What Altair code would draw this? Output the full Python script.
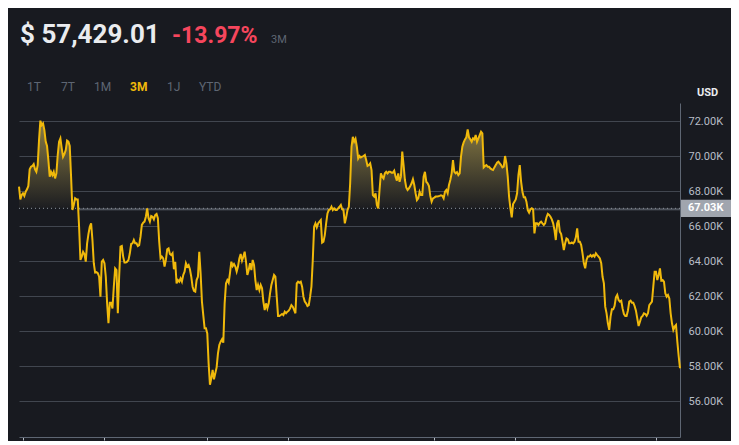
import altair as alt
import pandas as pd

# ---- price series (thousand USD), in time order ----
seg_1 = [68.27, 67.54, 67.79, 67.89, 67.74, 67.98, 68.12, 68.31, 69.26, 69.41,
         69.45, 69.56, 69.26, 69.12, 69.50, 70.93, 72.04, 71.79, 71.89, 71.50,
         70.84, 70.59, 69.79, 68.84, 69.12, 68.93, 69.12, 68.74, 69.03, 70.08,
         70.84, 71.03, 70.46, 69.98, 70.13, 70.36, 70.90, 70.84, 70.59, 68.84,
         66.93, 67.22, 67.60, 67.54, 67.54, 65.98, 64.08, 64.27, 64.55, 64.42,
         63.98, 65.03, 65.56, 65.98, 66.17, 65.22, 63.89, 63.36, 63.38, 63.32,
         63.12, 61.98, 63.98, 64.08, 63.89, 63.12, 61.60, 60.46, 61.64, 61.64,
         61.31, 62.55, 63.60, 63.50, 61.03, 63.12, 64.84, 64.88, 64.27, 63.93]
seg_2 = [63.93, 63.98, 64.08, 64.46, 64.99, 65.03, 65.22, 65.03, 65.03, 64.88,
         64.93, 65.41, 66.08, 66.21, 66.27, 66.55, 67.03, 66.46, 66.27, 66.59,
         66.55, 66.40, 66.65, 66.71, 66.46, 65.12, 64.17, 64.27, 64.17, 63.70,
         64.08, 64.69, 64.74, 64.42, 64.36, 64.46, 63.55, 63.98, 62.74, 62.93,
         62.84, 63.03, 62.84, 63.22, 63.41, 63.89, 63.70, 63.79, 63.55, 63.12,
         62.55, 62.32, 62.27, 62.93, 63.12, 64.55, 63.32, 61.70, 60.93, 60.17,
         60.17, 59.88, 58.17, 56.95, 57.31, 57.79, 57.26, 57.60, 57.94, 58.74,
         59.22, 59.41, 59.54, 59.35, 61.60, 62.74, 62.93, 62.78, 63.32, 63.98,
         63.73, 63.85]
seg_3 = [63.70, 63.41, 63.70, 64.17, 64.42, 64.04, 64.27, 64.55, 63.98, 63.22,
         63.50, 63.89, 63.50, 64.08, 63.79, 62.93, 62.36, 62.65, 62.36, 62.65,
         62.46, 61.70, 61.22, 61.60, 61.31, 61.60, 62.17, 62.65, 62.93, 63.22,
         63.12, 61.98, 60.88, 60.88, 60.93, 60.99, 60.93, 61.12, 61.03, 61.12,
         61.18, 61.31, 61.50, 61.41, 61.22, 61.03, 62.74, 62.84, 62.78, 62.84,
         62.55, 61.98, 61.70, 61.60, 61.45, 61.50, 61.98, 62.55, 64.08, 65.98,
         66.17, 65.94, 66.17, 66.27, 66.36, 65.07, 65.12, 65.50, 66.17, 66.74,
         66.93, 66.97, 67.12, 66.93, 67.03, 66.93, 66.93, 67.03, 67.12, 67.22,
         66.97, 66.93, 66.17]
seg_4 = [66.51, 66.93, 67.12, 68.46, 70.55, 71.12, 70.84, 71.00, 70.55, 69.88,
         70.02, 69.94, 69.98, 70.02, 70.08, 69.79, 69.45, 69.50, 69.60, 69.22,
         67.79, 67.70, 67.89, 67.22, 67.03, 68.08, 69.03, 68.84, 68.74, 69.03,
         69.12, 69.03, 69.12, 69.12, 69.07, 69.07, 69.18, 68.84, 68.61, 69.03,
         68.55, 68.84, 70.27, 69.50, 68.65, 68.23, 68.08, 68.17, 68.31, 68.46,
         68.69, 68.36, 67.89, 67.50, 67.60, 67.98, 67.79, 67.79, 68.84, 69.12,
         68.55, 68.46, 68.31, 67.74, 67.41, 67.60, 67.64, 67.70, 67.70, 67.72,
         67.74, 67.77, 67.75, 67.60, 67.98, 68.08, 67.89, 68.36, 68.65, 69.03,
         69.79, 69.12]
seg_5 = [69.03, 69.10, 68.93, 69.03, 69.98, 70.55, 70.80, 70.97, 71.09, 71.54,
         71.09, 70.97, 70.84, 71.03, 70.97, 71.22, 70.84, 71.03, 71.22, 71.41,
         71.31, 69.37, 69.45, 69.50, 69.41, 69.41, 69.31, 69.26, 69.22, 69.37,
         69.50, 69.64, 69.70, 69.60, 69.50, 69.37, 69.41, 70.02, 69.60, 68.84,
         67.70, 67.03, 66.51, 67.28, 67.41, 67.54, 67.89, 68.93, 69.50, 68.55,
         67.98, 67.66, 67.66, 67.41, 66.93, 66.78, 66.97, 67.03, 66.97, 65.60,
         66.17, 66.17, 66.08, 66.21, 66.27, 66.17, 66.08, 66.17, 66.51, 66.71,
         66.65, 66.55, 66.40, 66.17, 65.79, 65.22, 66.17, 66.36, 65.70, 65.56,
         65.12, 64.65, 65.03]
seg_6 = [65.31, 65.26, 65.03, 65.03, 65.08, 65.03, 65.12, 65.37, 65.89, 65.12,
         65.12, 64.93, 64.46, 63.89, 63.60, 64.08, 64.27, 64.27, 64.36, 64.27,
         64.36, 64.27, 64.46, 64.36, 64.27, 64.17, 63.89, 63.12, 62.74, 61.41,
         61.03, 60.46, 60.08, 60.84, 61.26, 61.26, 61.45, 61.94, 62.08, 61.79,
         61.70, 61.75, 61.31, 60.99, 60.88, 60.88, 61.18, 61.70, 61.75, 61.64,
         61.64, 61.45, 61.18, 60.74, 60.30, 60.55, 60.80, 60.88, 61.03, 60.99,
         60.88, 61.03, 61.50, 61.60, 61.70, 62.55, 63.41, 63.41, 62.93, 63.22,
         63.60, 62.90, 62.93, 62.84, 62.17, 61.98, 62.08, 61.88, 61.03, 60.46,
         60.08, 60.27, 60.36, 59.41, 58.59, 57.89]

price_k = seg_1 + seg_2 + seg_3 + seg_4 + seg_5 + seg_6
base_k = 67.03
grid_values = [56, 58, 60, 62, 64, 66, 68, 70, 72]
tick_positions = [2.7, 63.5, 140.6, 201.4, 311.0, 371.7, 476.7]

header_price = "$ 57,429.01"
header_change = "-13.97%"
header_range = "3M"
tabs = ["1T", "7T", "1M", "3M", "1J", "YTD"]
active_tab = "3M"
currency = "USD"

# ---- layout / style (not data) ----
BG = "#181a20"
GOLD = "#f0b90b"
W, H = 661, 334
tab_x = [8, 42, 75, 111, 148, 180]

df = pd.DataFrame({"t": list(range(len(price_k))), "p": price_k})
df["top"] = df["p"].clip(lower=base_k)
df["low"] = df["p"].clip(upper=base_k)
df["base"] = base_k

xs = alt.Scale(domain=[0, len(price_k) - 1], nice=False, zero=False)
ys = alt.Scale(domain=[53.96, 73.05], nice=False, zero=False)

x_axis = alt.Axis(values=tick_positions, labels=False, tickSize=3,
                  tickColor="#b7bdc6", domainColor="#5e6673", grid=False,
                  title=None)
y_axis = alt.Axis(orient="right", values=grid_values,
                  labelExpr="format(datum.value, '.2f') + 'K'",
                  grid=True, gridColor="#41464f", gridWidth=1,
                  domainColor="#5e6673", ticks=False, labelPadding=8,
                  labelColor="#b7bdc6", labelFont="Roboto",
                  labelFontSize=11, title=None)

up_gradient = alt.Gradient(
    gradient="linear",
    stops=[alt.GradientStop(color="#8c7e45", offset=0),
           alt.GradientStop(color="#1c1d21", offset=1)],
    x1=0, x2=0, y1=0, y2=1,
)
down_gradient = alt.Gradient(
    gradient="linear",
    stops=[alt.GradientStop(color="#4d525b", offset=0),
           alt.GradientStop(color="#4d525b", offset=0.009),
           alt.GradientStop(color=BG, offset=0.014),
           alt.GradientStop(color=BG, offset=1)],
    x1=0, x2=0, y1=0, y2=1,
)

base = alt.Chart(df)

area_up = base.mark_area(color=up_gradient, interpolate="linear").encode(
    x=alt.X("t:Q", scale=xs, axis=x_axis),
    y=alt.Y("top:Q", scale=ys, axis=y_axis),
    y2="base:Q",
)
area_down = base.mark_area(color=down_gradient, interpolate="linear").encode(
    x=alt.X("t:Q", scale=xs, axis=x_axis),
    y=alt.Y("base:Q", scale=ys, axis=y_axis),
    y2="low:Q",
)

line = base.mark_line(color=GOLD, strokeWidth=2, interpolate="linear").encode(
    x=alt.X("t:Q", scale=xs, axis=x_axis),
    y=alt.Y("p:Q", scale=ys, axis=y_axis),
)

bdf = pd.DataFrame({"b": [base_k], "lab": [f"{base_k:.2f}K"]})
base_rule = alt.Chart(bdf).mark_rule(color="#8d939c", strokeDash=[1, 3], strokeWidth=1).encode(
    y=alt.Y("b:Q", scale=ys, axis=y_axis)
)
box = alt.Chart(bdf).mark_rect(color="#a0a5ae").encode(
    x=alt.value(W + 1), x2=alt.value(W + 51),
    y=alt.Y(datum=base_k + 0.49, scale=ys, axis=y_axis),
    y2=alt.Y2(datum=base_k - 0.49),
)
box_text = alt.Chart(bdf).mark_text(align="left", baseline="middle", font="Roboto",
                                    fontSize=11, fontWeight="bold", color="#ffffff").encode(
    x=alt.value(W + 8), y=alt.Y("b:Q", scale=ys, axis=y_axis), text="lab:N"
)


def label(txt, x, y, size, color, weight="normal"):
    return alt.Chart(bdf).mark_text(align="left", baseline="alphabetic", font="Roboto",
                                    fontSize=size, fontWeight=weight, color=color).encode(
        x=alt.value(x), y=alt.value(y), text=alt.value(txt))


texts = [
    label(header_price, 1, -60, 26, "#eaecef", "bold"),
    label(header_change, 153, -60, 23, "#f6465d", "bold"),
    label(header_range, 252, -60, 11, "#5e6673"),
    label(currency, 678, -7, 11, "#eaecef", "bold"),
]
for name, tx in zip(tabs, tab_x):
    if name == active_tab:
        texts.append(label(name, tx, -12, 12, GOLD, "bold"))
    else:
        texts.append(label(name, tx, -12, 12, "#5e6673"))

chart = alt.layer(area_up, area_down, base_rule, line, box, box_text, *texts).properties(
    width=W, height=H,
    autosize=alt.AutoSizeParams(type="none"),
    padding={"left": 11, "top": 95, "right": 51, "bottom": 4},
    background=BG,
).configure_view(stroke=None)

chart.save("out.html", embed_options={"renderer": "svg", "actions": False})
